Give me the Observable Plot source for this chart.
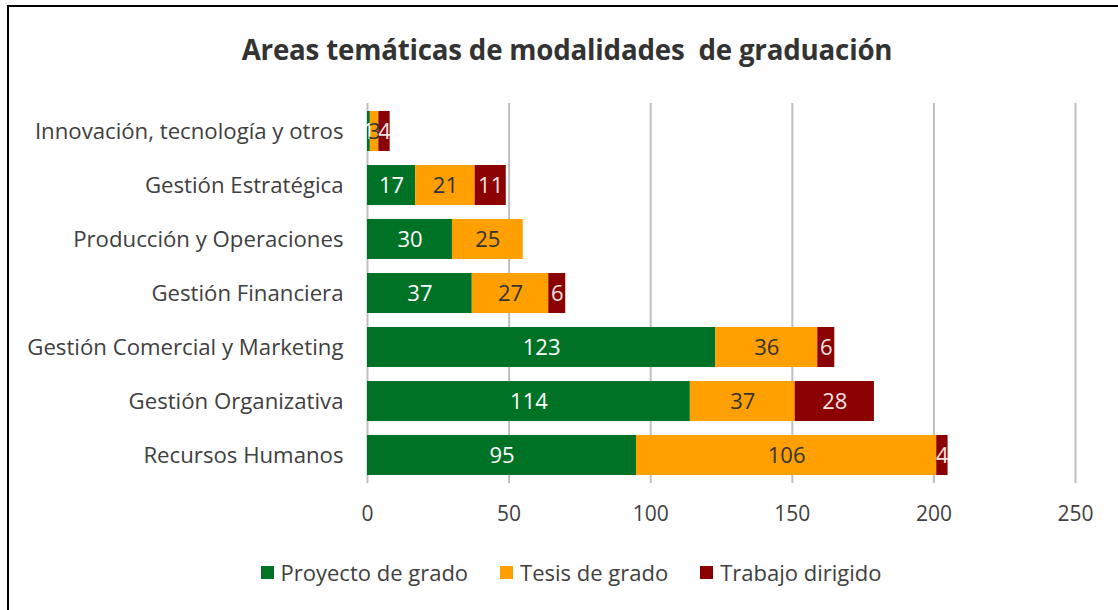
<!DOCTYPE html>
<html>
<head>
<meta charset="utf-8">
<script src="https://cdn.jsdelivr.net/npm/d3@7"></script>
<script src="https://cdn.jsdelivr.net/npm/@observablehq/plot@0.6"></script>
<style>
  html, body { margin: 0; padding: 0; background: #fff; }
  #frame { position: relative; width: 1118px; height: 610px; overflow: hidden; font-family: "Open Sans", Lato, sans-serif; color: #404040; }
  #frame::before { content: ""; position: absolute; left: 7px; top: 5px; right: -10px; bottom: -10px; border-left: 2px solid #000; border-top: 2px solid #000; pointer-events: none; }
  #title { position: absolute; left: 0; top: 29px; width: 1118px; padding-left: 16px; box-sizing: border-box; text-align: center; font-size: 27.7px; font-weight: bold; white-space: pre; color: #333; line-height: 40px; letter-spacing: -0.2px; }
  #chart { position: absolute; left: 0; top: 85px; }
  #legend { position: absolute; left: 0; top: 558px; width: 1118px; padding-left: 24px; box-sizing: border-box; display: flex; justify-content: center; gap: 32px; font-size: 22px; line-height: 28px; }
  .item { display: flex; align-items: center; gap: 7px; }
  .sw { width: 13px; height: 13px; display: inline-block; }
</style>
</head>
<body>
<div id="frame">
  <div id="title">Areas temáticas de modalidades  de graduación</div>
  <div id="chart"></div>
  <div id="legend"></div>
</div>
<script>
const categories = ["Innovación, tecnología y otros", "Gestión Estratégica", "Producción y Operaciones", "Gestión Financiera", "Gestión Comercial y Marketing", "Gestión Organizativa", "Recursos Humanos"];
const seriesNames = ["Proyecto de grado", "Tesis de grado", "Trabajo dirigido"];
const proyecto = [1, 17, 30, 37, 123, 114, 95];
const tesis = [3, 21, 25, 27, 36, 37, 106];
const trabajo = [4, 11, 0, 6, 6, 28, 4];
const xTicks = [0, 50, 100, 150, 200, 250];
const colors = ["#007226", "#FFA000", "#8B0000"];
const labelColors = ["#ffffff", "#333333", "#f3e4e4"];

const seriesValues = [proyecto, tesis, trabajo];
const data = [];
seriesNames.forEach((s, si) => {
  categories.forEach((c, ci) => {
    data.push({cat: c, series: s, value: seriesValues[si][ci]});
  });
});

const chart = Plot.plot({
  width: 1118,
  height: 445,
  marginLeft: 367,
  marginRight: 43,
  marginTop: 18,
  marginBottom: 47,
  style: {fontFamily: "'Open Sans', Lato, sans-serif", fontSize: "22px", color: "#404040", background: "transparent"},
  x: {domain: [0, 250], ticks: xTicks, label: null},
  y: {domain: categories, label: null, paddingInner: 0.26, paddingOuter: 0.13},
  color: {domain: seriesNames, range: colors},
  marks: [
    Plot.gridX(xTicks, {stroke: "#bfbfbf", strokeOpacity: 1, strokeWidth: 2}),
    Plot.barX(data, Plot.stackX({x: "value", y: "cat", z: "series", fill: "series", order: null})),
    Plot.text(data, Plot.stackX({
      x: "value", y: "cat", z: "series", order: null,
      text: d => d.value > 0 ? String(d.value) : "",
      fill: d => labelColors[seriesNames.indexOf(d.series)],
      fontSize: 22
    })),
    Plot.axisX({ticks: xTicks, tickSize: 0, tickPadding: 23, fontSize: 21, label: null, fill: "#404040"}),
    Plot.axisY({tickSize: 0, tickPadding: 24, fontSize: 22.2, label: null, fill: "#404040"})
  ]
});
document.getElementById("chart").appendChild(chart);

const legend = document.getElementById("legend");
seriesNames.forEach((s, i) => {
  const it = document.createElement("div");
  it.className = "item";
  const sw = document.createElement("span");
  sw.className = "sw";
  sw.style.background = colors[i];
  const t = document.createElement("span");
  t.textContent = s;
  it.appendChild(sw);
  it.appendChild(t);
  legend.appendChild(it);
});
</script>
</body>
</html>
